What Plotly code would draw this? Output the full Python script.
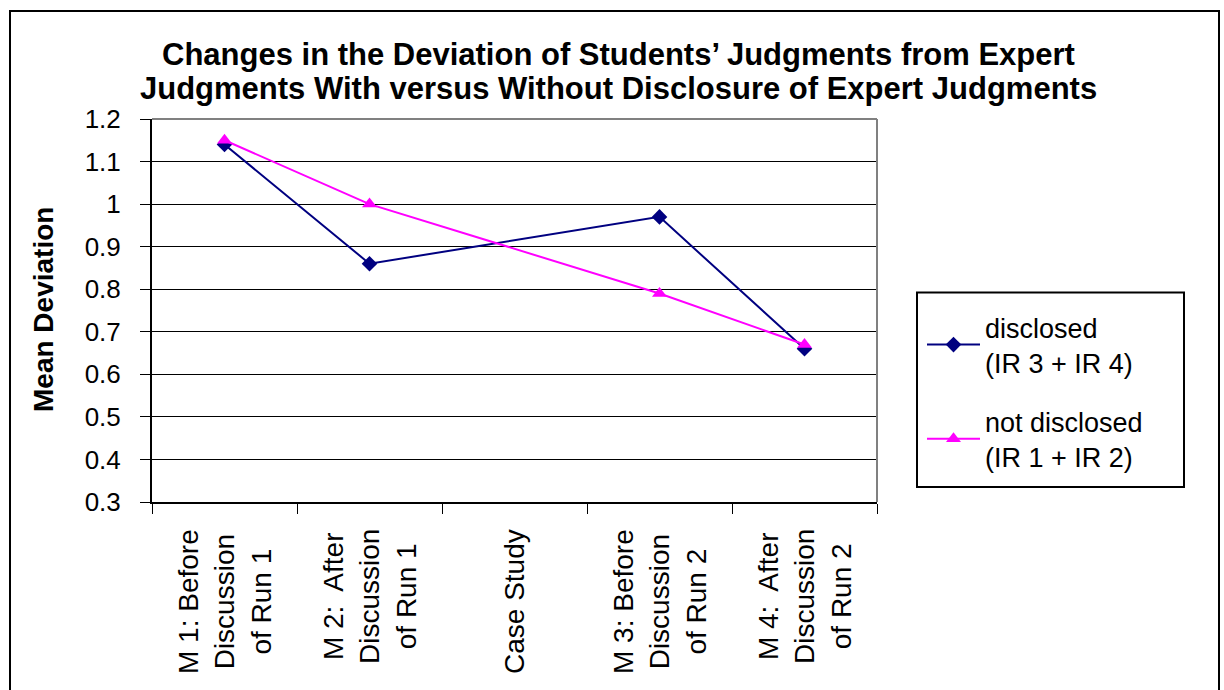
import plotly.graph_objects as go

# Measurement points along the x axis ("Case Study" carries no measurement)
categories = [
    "M 1: Before<br>Discussion<br>of Run 1",
    "M 2:  After<br>Discussion<br>of Run 1",
    "Case Study",
    "M 3: Before<br>Discussion<br>of Run 2",
    "M 4:  After<br>Discussion<br>of Run 2",
]
measured_points = [categories[0], categories[1], categories[3], categories[4]]

# Mean deviation of student judgments from expert judgments
disclosed = [1.14, 0.86, 0.97, 0.66]
not_disclosed = [1.15, 1.00, 0.79, 0.67]
series_names = ["disclosed<br>(IR 3 + IR 4)", "not disclosed<br>(IR 1 + IR 2)"]

y_tick_values = [0.3, 0.4, 0.5, 0.6, 0.7, 0.8, 0.9, 1.0, 1.1, 1.2]
y_tick_labels = ["0.3", "0.4", "0.5", "0.6", "0.7", "0.8", "0.9", "1", "1.1", "1.2"]

title_lines = [
    "Changes in the Deviation of Students’ Judgments from Expert",
    "Judgments With versus Without Disclosure of Expert Judgments",
]
y_title = "Mean Deviation"

FONT = "Liberation Sans, Arial, sans-serif"
W, H = 1224, 690
L, R, T, B = 152, 347, 119, 188
PW, PH = W - L - R, H - T - B


def px_x(x):
    return (x - L) / PW


def px_y(y):
    return (H - B - y) / PH


fig = go.Figure()
fig.add_trace(go.Scatter(
    x=measured_points, y=disclosed, name=series_names[0], legendgroup="a",
    mode="lines+markers",
    line=dict(color="#000080", width=2),
    marker=dict(symbol="diamond", size=12, color="#000080"),
))
fig.add_trace(go.Scatter(
    x=measured_points, y=not_disclosed, name=series_names[1], legendgroup="b",
    mode="lines+markers",
    line=dict(color="#FF00FF", width=2),
    marker=dict(symbol="triangle-up", size=13, color="#FF00FF"),
))

annotations = []
# Title lines
for i, line in enumerate(title_lines):
    annotations.append(dict(
        text=f"<b>{line}</b>", xref="paper", yref="paper",
        x=px_x(618.5), y=px_y(54.5 + 34 * i), xanchor="center", yanchor="middle",
        showarrow=False, font=dict(family=FONT, size=31, color="black"),
    ))
# Y axis title
annotations.append(dict(
    text=f"<b>{y_title}</b>", xref="paper", yref="paper",
    x=px_x(43), y=px_y(310), xanchor="center", yanchor="middle",
    textangle=-90, showarrow=False, font=dict(family=FONT, size=28, color="black"),
))
# Category labels, rotated and centred line by line
for cat in categories:
    annotations.append(dict(
        text=cat, xref="x", yref="paper", x=cat, y=px_y(527),
        xanchor="center", yanchor="top", textangle=-90, align="center",
        showarrow=False, font=dict(family=FONT, size=28, color="black"),
    ))

shapes = [
    # outer chart frame
    dict(type="rect", xref="paper", yref="paper",
         x0=px_x(10), x1=px_x(1219), y0=px_y(900), y1=px_y(11),
         line=dict(color="black", width=2), layer="below"),
    # plot area border (top and right)
    dict(type="line", xref="paper", yref="paper", x0=0, x1=1, y0=1, y1=1,
         line=dict(color="#808080", width=2), layer="above"),
    dict(type="line", xref="paper", yref="paper", x0=1, x1=1, y0=0, y1=1,
         line=dict(color="#808080", width=2), layer="above"),
    # legend frame
    dict(type="rect", xref="paper", yref="paper",
         x0=px_x(917), x1=px_x(1184), y0=px_y(487), y1=px_y(292.5),
         line=dict(color="black", width=2), layer="below"),
]

fig.update_layout(
    width=W, height=H,
    margin=dict(l=L, r=R, t=T, b=B, pad=0),
    paper_bgcolor="white", plot_bgcolor="white",
    font=dict(family=FONT, color="black"),
    showlegend=True,
    legend=dict(
        x=px_x(922), y=px_y(303), xanchor="left", yanchor="top",
        bgcolor="rgba(0,0,0,0)", borderwidth=0,
        font=dict(family=FONT, size=27, color="black"),
        traceorder="grouped", tracegroupgap=21, itemwidth=53,
    ),
    xaxis=dict(
        type="category", categoryorder="array", categoryarray=categories,
        range=[-0.5, 4.5], showticklabels=False,
        ticks="outside", ticklen=10, tickwidth=1, tickcolor="black",
        tickson="boundaries", showline=True, linecolor="black", linewidth=2,
        showgrid=False, zeroline=False,
    ),
    yaxis=dict(
        range=[0.3, 1.2], tickvals=y_tick_values, ticktext=y_tick_labels,
        ticks="outside", ticklen=10, tickwidth=1, tickcolor="black",
        tickfont=dict(family=FONT, size=26, color="black"),
        ticklabelstandoff=14,
        showline=True, linecolor="black", linewidth=2,
        showgrid=True, gridcolor="black", gridwidth=1, zeroline=False,
    ),
    annotations=annotations,
    shapes=shapes,
)

fig.write_html("out.html")
